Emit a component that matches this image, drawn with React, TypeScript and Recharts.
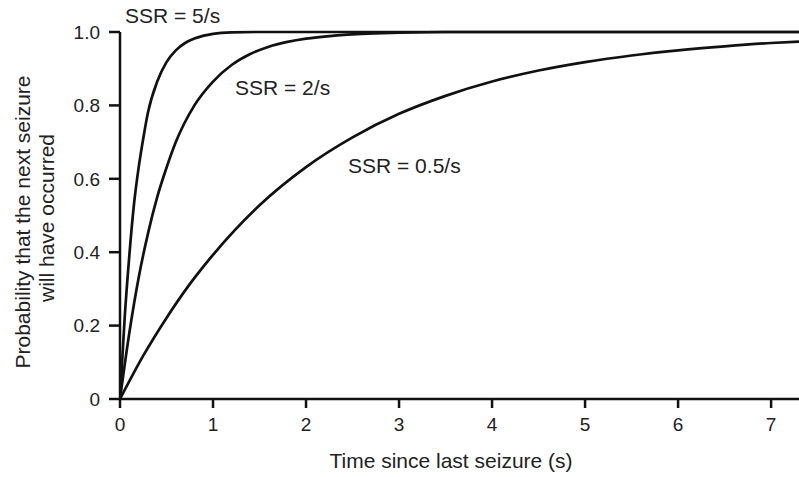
import React from 'react';
import { LineChart, Line, XAxis, YAxis } from 'recharts';

const xTicks = [0, 1, 2, 3, 4, 5, 6, 7];
const yTicks = [0, 0.2, 0.4, 0.6, 0.8, 1.0];

const ssr5 = [
  { t: 0, p: 0 }, { t: 0.05, p: 0.22 }, { t: 0.1, p: 0.39 }, { t: 0.15, p: 0.53 },
  { t: 0.2, p: 0.63 }, { t: 0.25, p: 0.71 }, { t: 0.3, p: 0.78 }, { t: 0.4, p: 0.865 },
  { t: 0.5, p: 0.918 }, { t: 0.6, p: 0.95 }, { t: 0.7, p: 0.97 }, { t: 0.8, p: 0.982 },
  { t: 0.9, p: 0.99 }, { t: 1.0, p: 0.995 }, { t: 1.2, p: 0.999 }, { t: 1.5, p: 1.0 },
  { t: 7.3, p: 1.0 },
];

const ssr2 = [
  { t: 0, p: 0 }, { t: 0.1, p: 0.18 }, { t: 0.2, p: 0.33 }, { t: 0.3, p: 0.45 },
  { t: 0.4, p: 0.55 }, { t: 0.5, p: 0.63 }, { t: 0.6, p: 0.70 }, { t: 0.8, p: 0.80 },
  { t: 1.0, p: 0.865 }, { t: 1.2, p: 0.91 }, { t: 1.4, p: 0.94 }, { t: 1.6, p: 0.96 },
  { t: 1.8, p: 0.973 }, { t: 2.0, p: 0.982 }, { t: 2.3, p: 0.99 }, { t: 2.6, p: 0.995 },
  { t: 3.0, p: 0.998 }, { t: 3.5, p: 1.0 }, { t: 7.3, p: 1.0 },
];

const ssr05 = [
  { t: 0, p: 0 }, { t: 0.25, p: 0.118 }, { t: 0.5, p: 0.221 }, { t: 0.75, p: 0.313 },
  { t: 1.0, p: 0.393 }, { t: 1.5, p: 0.528 }, { t: 2.0, p: 0.632 }, { t: 2.5, p: 0.713 },
  { t: 3.0, p: 0.777 }, { t: 3.5, p: 0.826 }, { t: 4.0, p: 0.865 }, { t: 4.5, p: 0.895 },
  { t: 5.0, p: 0.918 }, { t: 5.5, p: 0.936 }, { t: 6.0, p: 0.95 }, { t: 6.5, p: 0.961 },
  { t: 7.0, p: 0.97 }, { t: 7.3, p: 0.974 },
];

const labels = ['SSR = 5/s', 'SSR = 2/s', 'SSR = 0.5/s'];
const xTitle = 'Time since last seizure (s)';
const yTitle = ['Probability that the next seizure', 'will have occurred'];

const font = '"Liberation Sans", Arial, Helvetica, sans-serif';

export default function App() {
  return (
    <div style={{ position: 'absolute', left: 0, top: 0, width: 799, height: 477, background: '#fff', fontFamily: font }}>
      <LineChart width={799} height={477} margin={{ top: 32, right: 0, bottom: 48, left: 0 }}>
        <XAxis
          type="number"
          dataKey="t"
          domain={[0, 7.3]}
          ticks={xTicks}
          allowDataOverflow
          height={30}
          axisLine={{ stroke: '#111', strokeWidth: 2.5 }}
          tickLine={{ stroke: '#111', strokeWidth: 2.5 }}
          tickSize={9}
          tickMargin={10}
          tick={{ fill: '#222', fontSize: 19, fontFamily: font }}
          interval={0}
        />
        <YAxis
          type="number"
          dataKey="p"
          domain={[0, 1]}
          ticks={yTicks}
          width={120}
          axisLine={{ stroke: '#111', strokeWidth: 2.5 }}
          tickLine={{ stroke: '#111', strokeWidth: 2.5 }}
          tickSize={11}
          tickMargin={9}
          tick={{ fill: '#222', fontSize: 19, fontFamily: font }}
          tickFormatter={(v: number) => (v === 0 ? '0' : v.toFixed(1))}
          interval={0}
        />
        <Line data={ssr5} dataKey="p" type="monotone" stroke="#111" strokeWidth={2.7} dot={false} isAnimationActive={false} />
        <Line data={ssr2} dataKey="p" type="monotone" stroke="#111" strokeWidth={2.7} dot={false} isAnimationActive={false} />
        <Line data={ssr05} dataKey="p" type="monotone" stroke="#111" strokeWidth={2.7} dot={false} isAnimationActive={false} />
        <text x={125} y={23} fontSize={21} fill="#222" fontFamily={font}>{labels[0]}</text>
        <text x={235} y={95} fontSize={21} fill="#222" fontFamily={font}>{labels[1]}</text>
        <text x={348} y={173} fontSize={21} fill="#222" fontFamily={font}>{labels[2]}</text>
        <text x={451} y={468} fontSize={21} fill="#222" fontFamily={font} textAnchor="middle">{xTitle}</text>
        <text x={22} y={222} fontSize={21} fill="#222" fontFamily={font} textAnchor="middle" dominantBaseline="central" transform="rotate(-90 22 222)">{yTitle[0]}</text>
        <text x={46} y={218} fontSize={21} fill="#222" fontFamily={font} textAnchor="middle" dominantBaseline="central" transform="rotate(-90 46 218)">{yTitle[1]}</text>
      </LineChart>
    </div>
  );
}
